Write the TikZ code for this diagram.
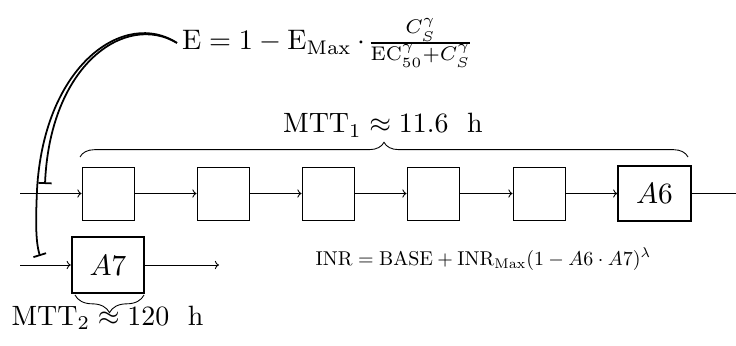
\documentclass[tikz,border=0pt]{standalone}
\usepackage{graphicx}
\usetikzlibrary{arrows.meta,decorations.pathreplacing}
\begin{document}
\begin{tikzpicture}[x=0.34pt,y=-0.34pt,
  box/.style={draw, line width=0.3pt, minimum width=17.7pt, minimum height=18pt, inner sep=0pt},
  cmp/.style={draw, line width=0.7pt, minimum width=24.6pt, minimum height=18.8pt, inner sep=0pt},
  lbl/.style={inner sep=0pt},
  flow/.style={line width=0.3pt, -{To[length=1.4pt,width=2.8pt]}},
  inhib/.style={line width=0.6pt, -{Bar[width=4.5pt]}},
  brc/.style={line width=0.3pt, decorate, decoration={brace, amplitude=#1}}]
\useasboundingbox (0,0) rectangle (736,345);
% compartments
\node[box] (b1) at (108,193.5) {};
\node[box] (b2) at (223,193.5) {};
\node[box] (b3) at (328,193.5) {};
\node[box] (b4) at (433,193.5) {};
\node[box] (b5) at (539,193.5) {};
\node[cmp] (a6) at (654.5,193.5) {$A6$};
\node[cmp] (a7) at (108,265) {$A7$};
% free ends
\coordinate (in1) at (20,193.5);
\coordinate (out1) at (736,193.5);
\coordinate (in2) at (20,265);
\coordinate (out2) at (219,265);
\draw[flow] (in1) -- (b1);
\draw[flow] (b1) -- (b2);
\draw[flow] (b2) -- (b3);
\draw[flow] (b3) -- (b4);
\draw[flow] (b4) -- (b5);
\draw[flow] (b5) -- (a6);
\draw[line width=0.3pt] (a6) -- (out1);
\draw[flow] (in2) -- (a7);
\draw[flow] (a7) -- (out2);
% braces
\draw[brc=5pt] (80,157) -- (688,157);
\draw[brc=6pt] (144,295) -- (75,295);
% labels
\node[lbl, anchor=base] (mtt1) at (383,133) {\scalebox{0.95}{$\mathrm{MTT}_1\approx 11.6~~\mathrm{h}$}};
\node[lbl, anchor=base] (mtt2) at (107.5,325) {\scalebox{0.95}{$\mathrm{MTT}_2\approx 120~~\mathrm{h}$}};
\node[inner sep=1.5pt, anchor=base west] (eq) at (177,50) {\scalebox{0.96}{$\mathrm{E}=1-\mathrm{E}_{\mathrm{Max}}\cdot\!\frac{C_S^\gamma}{\mathrm{EC}_{50}^\gamma+C_S^\gamma}$}};
\node[lbl, anchor=base west] (inr) at (315,265) {\scalebox{0.68}{$\mathrm{INR}=\mathrm{BASE}+\mathrm{INR}_{\mathrm{Max}}(1-A6\cdot A7)^\lambda$}};
% inhibition
\coordinate (t1) at (45,184);
\coordinate (t2) at (40,256);
\draw[inhib] (eq.west) .. controls (125,12) and (50,65) .. (t1);
\draw[inhib] (eq.west) .. controls (125,9) and (44,64) .. (37,190) .. controls (36,215) and (35,240) .. (t2);
\end{tikzpicture}
\end{document}
